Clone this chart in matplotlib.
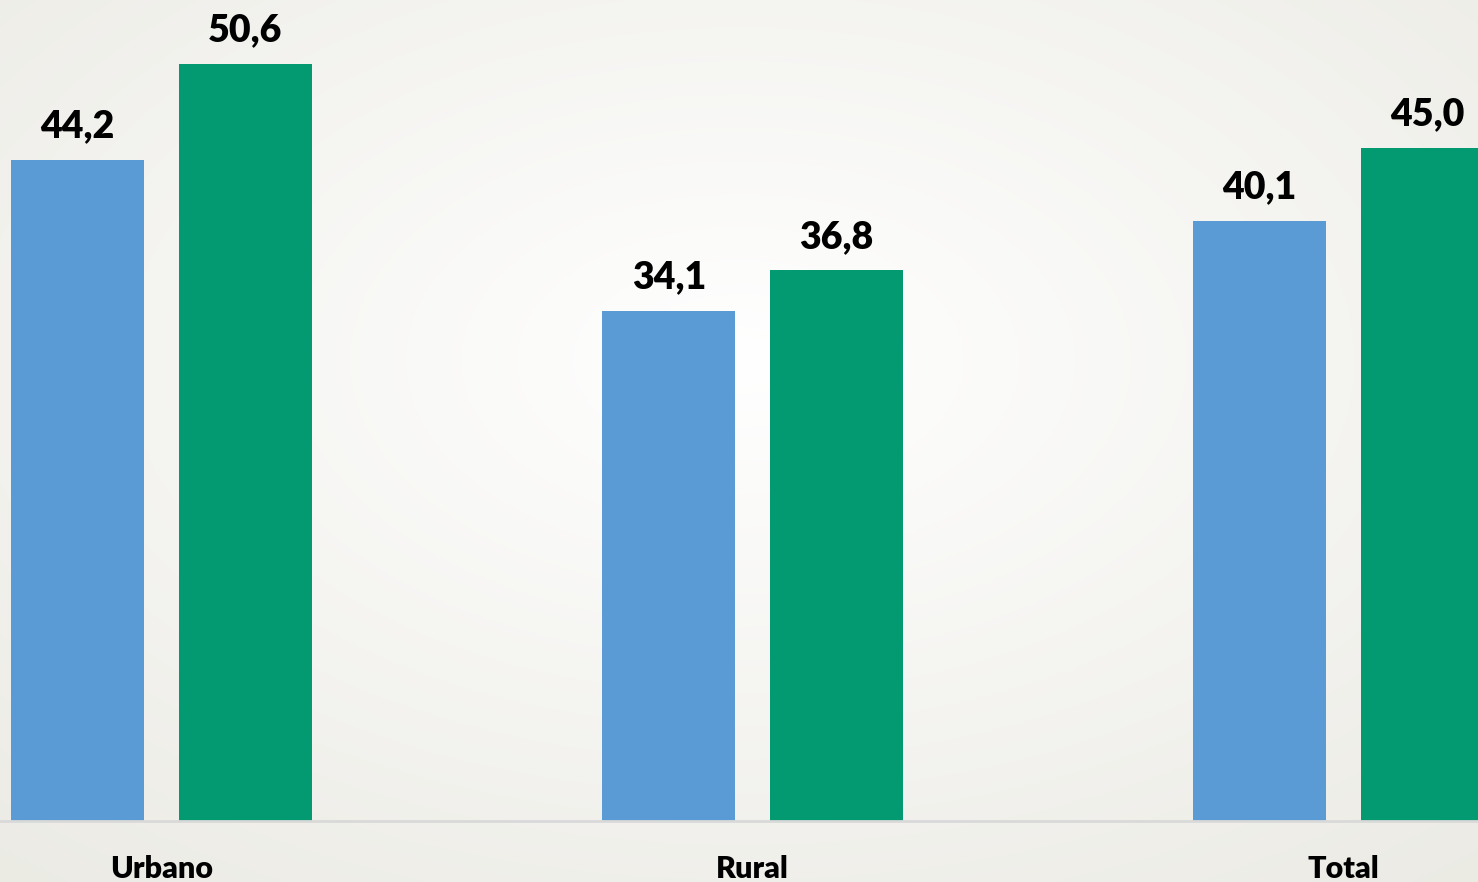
import numpy as np
import matplotlib.pyplot as plt

categories = ["Urbano", "Rural", "Total"]
serie_a = [44.2, 34.1, 40.1]
serie_b = [50.6, 36.8, 45.0]

BLUE = "#5B9BD5"
GREEN = "#039971"

W, H, DPI = 1478, 882, 100
fig = plt.figure(figsize=(W / DPI, H / DPI), dpi=DPI)

# radial gradient background
bg = fig.add_axes([0, 0, 1, 1], zorder=0)
yy, xx = np.mgrid[0:H, 0:W]
r = np.hypot((xx - 740) / W, (yy - 360) / H)
r = np.clip(r / 0.75, 0, 1)
c0 = np.array([1.0, 1.0, 1.0])
c1 = np.array([0.925, 0.922, 0.898])
img = c0 + (c1 - c0) * r[..., None]
bg.imshow(img, aspect="auto", extent=[0, 1, 0, 1], origin="upper")
bg.axis("off")

ax = fig.add_axes([0, 0, 1, 1], zorder=1)
ax.patch.set_alpha(0)

px_x = 591.0          # pixels per group
px_y = 14.96          # pixels per unit
x0_px, base_px = 161.5, 61.0
ax.set_xlim(-x0_px / px_x, (W - x0_px) / px_x)
ax.set_ylim(-base_px / px_y, (H - base_px) / px_y)

x = np.arange(len(categories))
width = 133 / px_x
off = 167.5 / px_x / 2
b1 = ax.bar(x - off, serie_a, width, color=BLUE, zorder=2)
b2 = ax.bar(x + off, serie_b, width, color=GREEN, zorder=2)

for bars in (b1, b2):
    for rect in bars:
        v = rect.get_height()
        ax.annotate(f"{v:.1f}".replace(".", ","),
                    (rect.get_x() + rect.get_width() / 2, v),
                    xytext=(0, 12), textcoords="offset points",
                    ha="center", va="bottom", fontsize=27,
                    fontweight="heavy", family="Lato", color="black")

ax.axhline(0, color="#d9d9d9", lw=2, zorder=3)

for xi, cat in zip(x, categories):
    ax.text(xi, -3.2, cat, ha="center", va="center", fontsize=22,
            fontweight="heavy", family="Lato", color="black")

ax.axis("off")
fig.savefig("out.png", dpi=DPI)
